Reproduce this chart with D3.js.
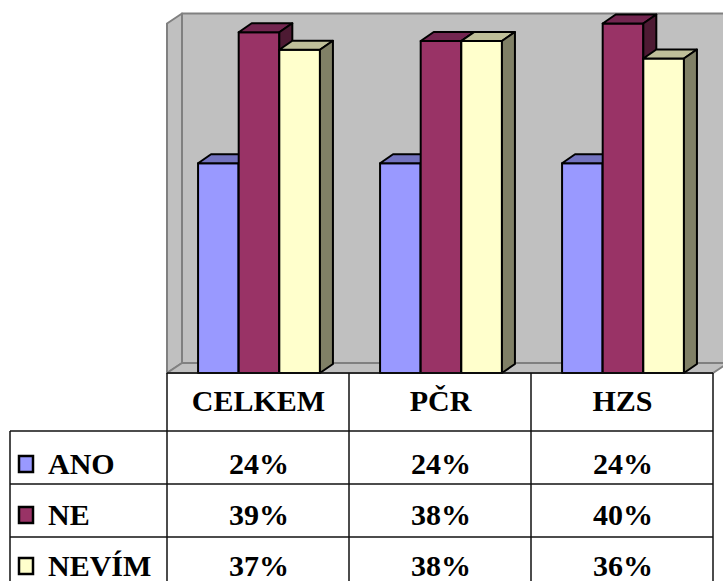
<!DOCTYPE html>
<html>
<head>
<meta charset="utf-8">
<script src="https://cdn.jsdelivr.net/npm/d3@7/dist/d3.min.js"></script>
<style>
  html, body { margin: 0; padding: 0; background: #fff; }
  svg { display: block; }
</style>
</head>
<body>
<svg id="chart" width="723" height="581"></svg>
<script>
// Categories and series
const categories = ["CELKEM", "PČR", "HZS"];
const seriesNames = ["ANO", "NE", "NEVÍM"];

// Percent values per series, one entry per category
const anoValues = [24, 24, 24];
const neValues = [39, 38, 40];
const nevimValues = [37, 38, 36];

// Face colours per series: front, top, side
const frontColors = ["#9999FF", "#993366", "#FFFFCC"];
const topColors = ["#7373BF", "#732650", "#BFBF99"];
const sideColors = ["#4D4D80", "#4D1A33", "#808066"];

const valueRows = [anoValues, neValues, nevimValues];

const FONT = "Liberation Serif, Tinos, DejaVu Serif, serif";

const svg = d3.select("#chart");

// Layout
const plotLeft = 167, plotRight = 713, floorFront = 373;
const wallDx = 15, wallDy = 10;     // depth of the walls
const barDx = 13, barDy = 9;        // depth of each bar

const x0 = d3.scaleBand().domain(categories).range([plotLeft, plotRight]).padding(0);
const x1 = d3.scaleBand().domain(seriesNames).range([0, x0.bandwidth()])
  .paddingInner(0).paddingOuter(0.74);
const y = d3.scaleLinear().domain([0, 40]).range([floorFront, 23.5]);

// Walls and floor
const wallTop = y(40);
const wallG = svg.append("g")
  .attr("fill", "#C0C0C0").attr("stroke", "#808080").attr("stroke-width", 2)
  .attr("stroke-linejoin", "round");

wallG.append("polygon").attr("points", [
  [plotLeft + wallDx, wallTop - wallDy], [760, wallTop - wallDy],
  [760, floorFront - wallDy], [plotLeft + wallDx, floorFront - wallDy]
].join(" "));
wallG.append("polygon").attr("points", [
  [plotLeft, wallTop], [plotLeft + wallDx, wallTop - wallDy],
  [plotLeft + wallDx, floorFront - wallDy], [plotLeft, floorFront]
].join(" "));
wallG.append("polygon").attr("points", [
  [plotLeft, floorFront], [plotLeft + wallDx, floorFront - wallDy],
  [plotRight + wallDx, floorFront - wallDy], [plotRight, floorFront]
].join(" "));

// 3D bars
const barsG = svg.append("g").attr("stroke", "#000").attr("stroke-width", 2)
  .attr("stroke-linejoin", "round");

categories.forEach((cat, ci) => {
  seriesNames.forEach((s, si) => {
    const v = valueRows[si][ci];
    const xl = x0(cat) + x1(s) + 1;
    const xr = xl + x1.bandwidth();
    const yt = y(v), yb = y(0);
    const g = barsG.append("g");
    g.append("polygon").attr("fill", frontColors[si])
      .attr("points", [[xl, yt], [xr, yt], [xr, yb], [xl, yb]].join(" "));
    g.append("polygon").attr("fill", topColors[si])
      .attr("points", [[xl, yt], [xl + barDx, yt - barDy], [xr + barDx, yt - barDy], [xr, yt]].join(" "));
    g.append("polygon").attr("fill", sideColors[si])
      .attr("points", [[xr, yt], [xr + barDx, yt - barDy], [xr + barDx, yb - barDy], [xr, yb]].join(" "));
  });
});

// Data table
const headerTop = floorFront, headerBottom = 431, rowH = 53;
const legendLeft = 10;
const tableBottom = headerBottom + rowH * seriesNames.length;

const lines = svg.append("g").attr("stroke", "#111").attr("stroke-width", 1.5);
// verticals between category columns
const colEdges = categories.map(c => x0(c)).concat([x0(categories[categories.length - 1]) + x0.bandwidth()]);
colEdges.forEach(xe => {
  lines.append("line").attr("x1", xe).attr("x2", xe).attr("y1", headerTop).attr("y2", tableBottom);
});
lines.append("line").attr("x1", legendLeft).attr("x2", legendLeft)
  .attr("y1", headerBottom).attr("y2", tableBottom);
// horizontals
lines.append("line").attr("x1", plotLeft).attr("x2", plotRight).attr("y1", headerTop).attr("y2", headerTop);
seriesNames.forEach((s, i) => {
  const yy = headerBottom + i * rowH;
  lines.append("line").attr("x1", legendLeft).attr("x2", plotRight).attr("y1", yy).attr("y2", yy);
});

const textG = svg.append("g")
  .style("font-family", FONT).style("font-weight", "700").style("font-size", "30px").attr("fill", "#000");

// Header labels
textG.selectAll("text.hdr").data(categories).join("text")
  .attr("class", "hdr")
  .attr("x", d => x0(d) + x0.bandwidth() / 2 + 0.5)
  .attr("y", 411)
  .attr("text-anchor", "middle")
  .text(d => d);

// Rows: legend key, series name, values
seriesNames.forEach((s, si) => {
  const base = 474 + si * 51;
  svg.append("rect")
    .attr("x", 19).attr("y", base - 18).attr("width", 14).attr("height", 16)
    .attr("fill", frontColors[si]).attr("stroke", "#000").attr("stroke-width", 2.5);
  textG.append("text").attr("x", 48).attr("y", base).text(s);
  categories.forEach((cat, ci) => {
    textG.append("text")
      .attr("x", x0(cat) + x0.bandwidth() / 2 + 1)
      .attr("y", base)
      .attr("text-anchor", "middle")
      .text(valueRows[si][ci] + "%");
  });
});
</script>
</body>
</html>
